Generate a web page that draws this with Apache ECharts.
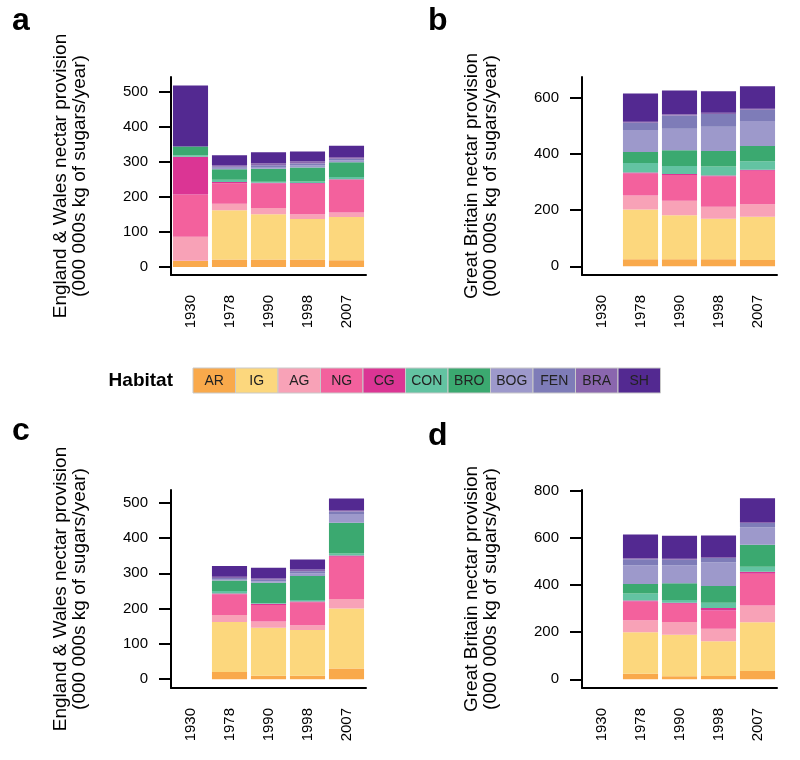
<!DOCTYPE html>
<html>
<head>
    <meta charset="utf-8">
    <title>Nectar provision by habitat</title>
    <script src="https://cdn.jsdelivr.net/npm/echarts@6/dist/echarts.min.js"></script>
    <style>
        html, body { margin: 0; padding: 0; background: #fff; }
        #chart { width: 800px; height: 760px; }
    </style>
</head>
<body>
<div id="chart"></div>
<script type="text/javascript">
    // 年份与生境类别
    var years = ['1930', '1978', '1990', '1998', '2007'];
    var habitats = ['AR', 'IG', 'AG', 'NG', 'CG', 'CON', 'BRO', 'BOG', 'FEN', 'BRA', 'SH'];
    var colours = ['#F9A94B', '#FCD77D', '#F8A2B7', '#F3619D', '#DB3594', '#63C3A2',
                   '#3BA970', '#9D99CB', '#7E7CB8', '#8A66AE', '#532991'];

    // 每行一个生境 (同 habitats 顺序)，每列一个年份
    var ewPanelA = [
        [18, 21, 21, 21, 19],
        [0, 141, 129.5, 116, 124],
        [68, 19, 18, 14, 13],
        [121, 58, 70, 87, 93],
        [108, 4, 2, 2, 2],
        [4, 6, 3, 4, 6],
        [25, 30.5, 37, 40, 42],
        [0, 4, 5, 6, 5],
        [0, 3, 5, 6, 5],
        [0, 3.5, 6, 6, 5],
        [175, 29.5, 31.5, 28, 32.7]
    ];
    var gbPanelB = [
        [null, 25, 25, 25, 22],
        [null, 177, 157, 144, 154],
        [null, 50, 51, 43, 45],
        [null, 78, 92, 107.5, 119],
        [null, 4, 4, 4, 4],
        [null, 34, 28, 32, 30],
        [null, 39, 56, 55, 54],
        [null, 78, 77, 86, 89],
        [null, 26, 47, 46, 40],
        [null, 4, 4, 4, 4],
        [null, 100, 85, 77, 80]
    ];
    var ewPanelC = [
        [null, 20, 9.5, 9.5, 30],
        [null, 142, 136, 129.5, 170],
        [null, 20, 18, 14, 27],
        [null, 58.5, 47, 65, 120],
        [null, 2, 3, 2, 3.5],
        [null, 7.5, 2, 4, 5.5],
        [null, 29.5, 58, 68, 87],
        [null, 4, 4, 8, 25],
        [null, 3, 4, 6, 7],
        [null, 4, 3.5, 5, 4],
        [null, 30, 31, 28, 33]
    ];
    var gbPanelD = [
        [null, 24, 13, 14, 35.5],
        [null, 176, 176, 148, 207],
        [null, 51, 54, 52.5, 71],
        [null, 79.5, 78, 78, 134.5],
        [null, 4, 4, 10, 8.7],
        [null, 30, 11.5, 23, 21.3],
        [null, 40, 71, 71, 93.6],
        [null, 80, 77, 100.5, 73.5],
        [null, 25.5, 23, 18.5, 19],
        [null, 4, 4, 4, 4],
        [null, 100.5, 98, 91, 101]
    ];

    var ticksA = [0, 100, 200, 300, 400, 500];
    var ticksB = [0, 200, 400, 600];
    var ticksC = [0, 100, 200, 300, 400, 500];
    var ticksD = [0, 200, 400, 600, 800];

    var ewName = 'England & Wales nectar provision\n(000 000s kg of sugars/year)';
    var gbName = 'Great Britain nectar provision\n(000 000s kg of sugars/year)';

    var font = "'Liberation Sans', Arial, sans-serif";

    var panels = [
        {rows: ewPanelA, ticks: ticksA, name: ewName, left: 171, top: 77, min: -23, max: 543, letter: 'a', lx: 12, ly: 5},
        {rows: gbPanelB, ticks: ticksB, name: gbName, left: 582, top: 77, min: -31, max: 674, letter: 'b', lx: 428, ly: 5},
        {rows: ewPanelC, ticks: ticksC, name: ewName, left: 171, top: 490, min: -25, max: 536, letter: 'c', lx: 12, ly: 415},
        {rows: gbPanelD, ticks: ticksD, name: gbName, left: 582, top: 490, min: -37, max: 804, letter: 'd', lx: 428, ly: 420}
    ];

    var grids = [], xAxes = [], yAxes = [], series = [], graphics = [];

    panels.forEach(function (p, i) {
        grids.push({left: p.left, top: p.top, width: 195, height: 198, outerBoundsMode: 'none'});
        xAxes.push({
            type: 'category',
            gridIndex: i,
            data: years,
            axisLine: {onZero: false, lineStyle: {color: '#000', width: 2}},
            axisTick: {alignWithLabel: true, length: 12, lineStyle: {color: '#000', width: 2}},
            axisLabel: {rotate: 90, margin: 20, color: '#000', fontSize: 15, fontFamily: font}
        });
        yAxes.push({
            type: 'value',
            gridIndex: i,
            min: p.min,
            max: p.max,
            splitLine: {show: false},
            axisLine: {show: true, lineStyle: {color: '#000', width: 2}},
            axisTick: {show: true, length: 12, customValues: p.ticks, lineStyle: {color: '#000', width: 2}},
            axisLabel: {customValues: p.ticks, margin: 23, color: '#000', fontSize: 15, fontFamily: font},
            name: p.name,
            nameLocation: 'middle',
            nameGap: 82,
            nameTextStyle: {color: '#000', fontSize: 19, lineHeight: 19, fontFamily: font}
        });
        habitats.forEach(function (h, k) {
            series.push({
                type: 'bar',
                name: h,
                stack: 'panel' + i,
                xAxisIndex: i,
                yAxisIndex: i,
                barCategoryGap: '10%',
                data: p.rows[k],
                itemStyle: {color: colours[k]},
                emphasis: {disabled: true}
            });
        });
        // 面板字母
        graphics.push({
            type: 'text', left: p.lx, top: p.ly,
            style: {text: p.letter, font: 'bold 32px ' + font, fill: '#000'}
        });
    });

    // Habitat 色块图例
    graphics.push({
        type: 'text', x: 173, y: 381,
        style: {text: 'Habitat', font: 'bold 19px ' + font, fill: '#000', align: 'right', verticalAlign: 'middle'}
    });
    var boxW = 42.5;
    habitats.forEach(function (h, k) {
        graphics.push({
            type: 'rect',
            shape: {x: 193 + k * boxW, y: 368, width: boxW, height: 25},
            style: {fill: colours[k], stroke: '#c9c9c9', lineWidth: 1}
        });
        graphics.push({
            type: 'text', x: 193 + k * boxW + boxW / 2, y: 381,
            style: {text: h, font: '14px ' + font, fill: '#222', align: 'center', verticalAlign: 'middle'}
        });
    });

    var myChart = echarts.init(document.getElementById('chart'));
    myChart.setOption({
        animation: false,
        grid: grids,
        xAxis: xAxes,
        yAxis: yAxes,
        series: series,
        graphic: graphics
    });
</script>
</body>
</html>
